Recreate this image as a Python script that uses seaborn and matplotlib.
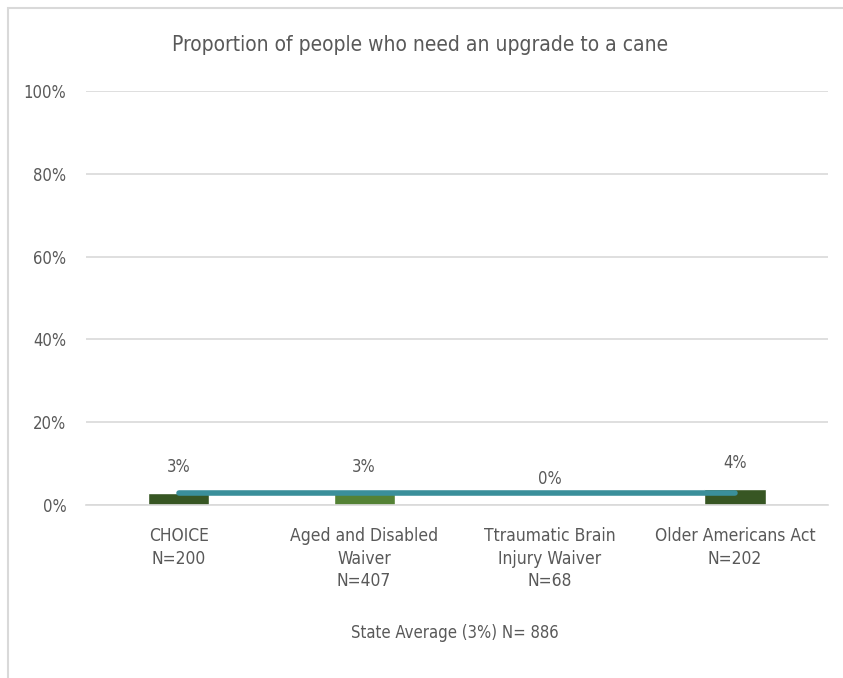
import matplotlib
matplotlib.use("Agg")
import matplotlib.pyplot as plt
import seaborn as sns
import pandas as pd
from matplotlib.patches import Rectangle
from matplotlib.ticker import PercentFormatter

programs = ["CHOICE", "Aged and Disabled", "Ttraumatic Brain", "Older Americans Act"]
tick_labels = ["CHOICE\nN=200", "Aged and Disabled\nWaiver\nN=407",
               "Ttraumatic Brain\nInjury Waiver\nN=68", "Older Americans Act\nN=202"]
proportions = [0.03, 0.03, 0.0, 0.04]
value_labels = ["3%", "3%", "0%", "4%"]
state_avg = [0.03, 0.03, 0.03, 0.03]
bar_colors = ["#375623", "#548235", "#375623", "#375623"]

sns.set_style("white")
plt.rcParams['font.family'] = ['Liberation Sans Narrow', 'DejaVu Sans']
plt.rcParams['font.stretch'] = 'condensed'
grey = "#595959"

df = pd.DataFrame({"program": programs, "prop": proportions})

fig = plt.figure(figsize=(8.43, 6.78), dpi=100)
ax = fig.add_axes([0.102, 0.255, 0.880, 0.611])

sns.barplot(data=df, x="program", y="prop", hue="program", palette=bar_colors,
            width=0.33, saturation=1, legend=False, ax=ax, zorder=2)
# state average line
ax.plot(range(len(programs)), state_avg, color="#3A8F9A", lw=4,
        solid_capstyle="round", zorder=3)

for i, (v, lab) in enumerate(zip(proportions, value_labels)):
    ax.annotate(lab, (i, v), xytext=(0, 12), textcoords="offset points",
                ha="center", va="bottom", fontsize=12, color=grey, zorder=4)

ax.set_ylim(0, 1)
ax.set_xlim(-0.5, 3.5)
ax.set_yticks([0, 0.2, 0.4, 0.6, 0.8, 1.0])
ax.yaxis.set_major_formatter(PercentFormatter(1.0, decimals=0))
ax.set_xticks(range(len(programs)))
ax.set_xticklabels(tick_labels, linespacing=1.3)
ax.tick_params(axis="both", length=0, labelsize=12, labelcolor=grey)
ax.tick_params(axis="x", pad=16, labelsize=12.5)
ax.tick_params(axis="y", pad=14)
ax.grid(axis="y", color="#D9D9D9", lw=1.2, zorder=0)
ax.set_axisbelow(True)
for s in ["top", "right", "left"]:
    ax.spines[s].set_visible(False)
ax.spines["bottom"].set_color("#D9D9D9")
ax.spines["bottom"].set_linewidth(1.2)
ax.set_xlabel("")
ax.set_ylabel("")

fig.text(0.498, 0.933, "Proportion of people who need an upgrade to a cane",
         ha="center", va="center", fontsize=15, color=grey)
fig.text(0.54, 0.067, "State Average (3%) N= 886",
         ha="center", va="center", fontsize=12, color=grey)

fig.patches.append(Rectangle((0.009, -0.05), 1.2, 1.038, transform=fig.transFigure,
                             fill=False, edgecolor="#D9D9D9", lw=1.5))

fig.savefig("out.png", dpi=100)
